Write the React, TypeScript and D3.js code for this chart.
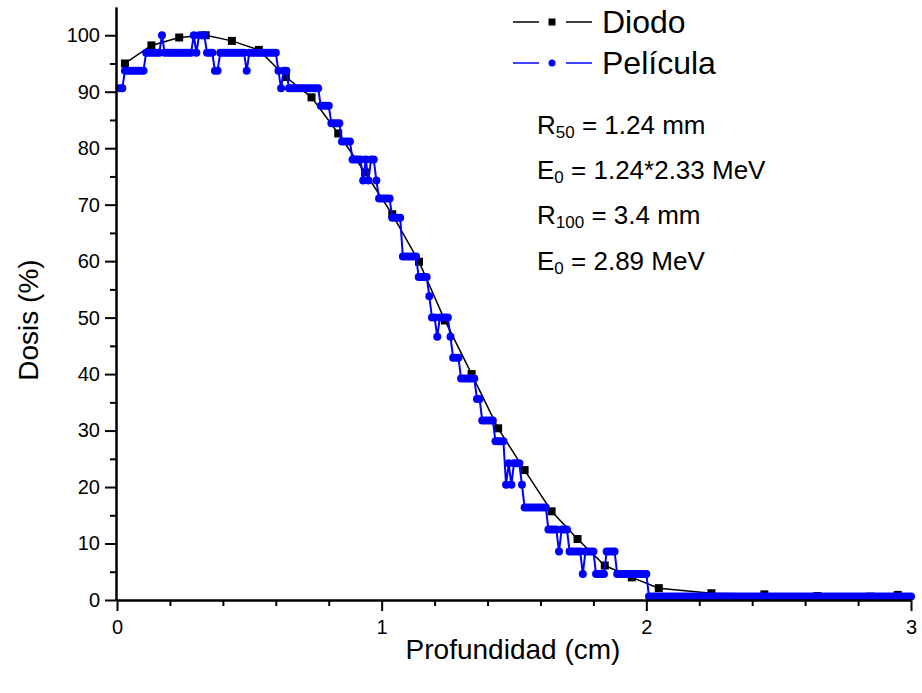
import React, { useRef, useEffect } from "react";
import * as d3 from "d3";

// Diodo: measured points (depth cm, dose %)
const diodoX = [0.03, 0.13, 0.235, 0.335, 0.434, 0.536, 0.638, 0.735, 0.836, 0.937, 1.04, 1.141, 1.239, 1.34, 1.44, 1.54, 1.642, 1.74, 1.843, 1.945, 2.047, 2.246, 2.446, 2.646, 2.846, 2.95];
const diodoY = [95.0, 98.2, 99.6, 100, 99.0, 97.4, 92.6, 89.0, 82.6, 75.7, 68.3, 59.9, 49.5, 40.0, 30.4, 23.0, 15.7, 10.8, 6.1, 4.0, 2.1, 1.2, 1.0, 0.7, 0.6, 0.9];

// Película: film scan, one sample every 0.01 cm starting at 0.01 cm
const peliculaStart = 0.01;
const peliculaStep = 0.01;
const peliculaY = [
  90.6, 90.6, 93.7, 93.7, 93.7, 93.7, 93.7, 93.7, 93.7, 93.7,
  96.9, 96.9, 96.9, 96.9, 96.9, 96.9, 100, 96.9, 96.9, 96.9,
  96.9, 96.9, 96.9, 96.9, 96.9, 96.9, 96.9, 96.9, 100, 96.9,
  100, 100, 100, 96.9, 96.9, 96.9, 93.7, 93.7, 96.9, 96.9,
  96.9, 96.9, 96.9, 96.9, 96.9, 96.9, 96.9, 96.9, 93.7, 96.9,
  96.9, 96.9, 96.9, 96.9, 96.9, 96.9, 96.9, 96.9, 96.9, 96.9,
  93.7, 90.6, 93.7, 93.7, 90.6, 90.6, 90.6, 90.6, 90.6, 90.6,
  90.6, 90.6, 90.6, 90.6, 90.6, 90.6, 87.5, 87.5, 87.5, 87.5,
  84.4, 84.4, 84.4, 84.4, 81.2, 81.2, 81.2, 81.2, 78, 78,
  78, 78, 74.3, 78, 74.3, 78, 78, 74.3, 71.1, 71.1,
  71.1, 71.1, 71.1, 67.7, 67.7, 67.7, 67.7, 60.8, 60.8, 60.8,
  60.8, 60.8, 60.8, 57.2, 57.2, 57.2, 57.2, 53.8, 50, 50,
  46.6, 50, 50, 50, 50, 46.6, 42.9, 42.9, 42.9, 39.2,
  39.2, 39.2, 39.2, 39.2, 39.2, 35.6, 35.6, 31.8, 31.8, 31.8,
  31.8, 31.8, 28.1, 28.1, 28.1, 28.1, 20.4, 24.2, 20.4, 24.2,
  24.2, 24.2, 20.4, 16.4, 16.4, 16.4, 16.4, 16.4, 16.4, 16.4,
  16.4, 16.4, 12.5, 12.5, 12.5, 12.5, 8.6, 12.5, 12.5, 12.5,
  8.6, 8.6, 8.6, 8.6, 8.6, 4.6, 8.6, 8.6, 8.6, 8.6,
  4.6, 4.6, 4.6, 4.6, 8.6, 8.6, 8.6, 8.6, 4.6, 4.6,
  4.6, 4.6, 4.6, 4.6, 4.6, 4.6, 4.6, 4.6, 4.6, 4.6,
  0.6, 0.6, 0.6, 0.6, 0.6, 0.6, 0.6, 0.6, 0.6, 0.6,
  0.6, 0.6, 0.6, 0.6, 0.6, 0.6, 0.6, 0.6, 0.6, 0.6,
  0.6, 0.6, 0.6, 0.6, 0.6, 0.6, 0.6, 0.6, 0.6, 0.6,
  0.6, 0.6, 0.6, 0.6, 0.6, 0.6, 0.6, 0.6, 0.6, 0.6,
  0.6, 0.6, 0.6, 0.6, 0.6, 0.6, 0.6, 0.6, 0.6, 0.6,
  0.6, 0.6, 0.6, 0.6, 0.6, 0.6, 0.6, 0.6, 0.6, 0.6,
  0.6, 0.6, 0.6, 0.6, 0.6, 0.6, 0.6, 0.6, 0.6, 0.6,
  0.6, 0.6, 0.6, 0.6, 0.6, 0.6, 0.6, 0.6, 0.6, 0.6,
  0.6, 0.6, 0.6, 0.6, 0.6, 0.6, 0.6, 0.6, 0.6, 0.6,
  0.6, 0.6, 0.6, 0.6, 0.6, 0.6, 0.6, 0.6, 0.6, 0.6,
];

const xTicks = [0, 1, 2, 3];
const xMinor = [0.2, 0.4, 0.6, 0.8, 1.2, 1.4, 1.6, 1.8, 2.2, 2.4, 2.6, 2.8];
const yTicks = [0, 10, 20, 30, 40, 50, 60, 70, 80, 90, 100];
const yMinor = [5, 15, 25, 35, 45, 55, 65, 75, 85, 95];

const W = 922;
const H = 693;
const margin = { top: 7, right: 11, bottom: 93, left: 117 };
const FONT = "'Liberation Sans', Arial, sans-serif";

function App() {
  const xAxisRef = useRef<SVGGElement>(null);
  const yAxisRef = useRef<SVGGElement>(null);

  const x = d3.scaleLinear().domain([0, 3]).range([margin.left, W - margin.right]);
  const y = d3.scaleLinear().domain([0, 105]).range([H - margin.bottom, margin.top]);

  const diodo = diodoX.map((d, i) => [d, diodoY[i]] as [number, number]);
  const pelicula = peliculaY.map((v, i) => [peliculaStart + i * peliculaStep, v] as [number, number]);

  const line = d3
    .line<[number, number]>()
    .x((d) => x(d[0]))
    .y((d) => y(d[1]));

  useEffect(() => {
    const gx = d3.select(xAxisRef.current);
    gx.selectAll("*").remove();
    gx.append("g")
      .call(d3.axisBottom(x).tickValues(xMinor).tickSize(6).tickSizeOuter(0).tickFormat(() => ""));
    gx.append("g")
      .call(d3.axisBottom(x).tickValues(xTicks).tickSize(11).tickSizeOuter(0).tickPadding(9).tickFormat(d3.format("d")));
    gx.selectAll("path.domain").attr("stroke-width", 2).attr("stroke", "#000");
    gx.selectAll(".tick line").attr("stroke-width", 2).attr("stroke", "#000");
    gx.selectAll("text").attr("font-size", 20).attr("font-family", FONT).attr("fill", "#000");

    const gy = d3.select(yAxisRef.current);
    gy.selectAll("*").remove();
    gy.append("g")
      .call(d3.axisLeft(y).tickValues(yMinor).tickSize(6).tickSizeOuter(0).tickFormat(() => ""));
    gy.append("g")
      .call(d3.axisLeft(y).tickValues(yTicks).tickSize(11).tickSizeOuter(0).tickPadding(5).tickFormat(d3.format("d")));
    gy.selectAll("path.domain").attr("stroke-width", 2).attr("stroke", "#000");
    gy.selectAll(".tick line").attr("stroke-width", 2).attr("stroke", "#000");
    gy.selectAll("text").attr("font-size", 20).attr("font-family", FONT).attr("fill", "#000");
  }, []);

  return (
    <svg
      width={W}
      height={H}
      style={{ position: "absolute", left: 0, top: 0, background: "#fff" }}
      fontFamily={FONT}
    >
      <rect width={W} height={H} fill="#fff" />

      {/* Diodo */}
      <path d={line(diodo) || ""} fill="none" stroke="#000" strokeWidth={1.5} />
      {diodo.map((d, i) => (
        <rect key={"d" + i} x={x(d[0]) - 4} y={y(d[1]) - 4} width={8} height={8} fill="#000" />
      ))}

      {/* Película */}
      <path d={line(pelicula) || ""} fill="none" stroke="#0000ff" strokeWidth={2} />
      {pelicula.map((d, i) => (
        <circle key={"p" + i} cx={x(d[0])} cy={y(d[1])} r={4} fill="#0000ff" />
      ))}

      <g ref={xAxisRef} transform={`translate(0,${H - margin.bottom})`} />
      <g ref={yAxisRef} transform={`translate(${margin.left - 1},0)`} />

      {/* axis titles */}
      <text x={513} y={659} textAnchor="middle" fontSize={28}>
        Profundidad (cm)
      </text>
      <text transform="translate(38,320) rotate(-90)" textAnchor="middle" fontSize={28}>
        Dosis (%)
      </text>

      {/* legend */}
      <g>
        <line x1={513} x2={539} y1={22} y2={22} stroke="#000" strokeWidth={1.5} />
        <rect x={548.5} y={18.5} width={7} height={7} fill="#000" />
        <line x1={566} x2={592} y1={22} y2={22} stroke="#000" strokeWidth={1.5} />
        <text x={602} y={33} fontSize={32}>Diodo</text>

        <line x1={513} x2={539} y1={63} y2={63} stroke="#0000ff" strokeWidth={1.5} />
        <circle cx={552} cy={63} r={3.5} fill="#0000ff" />
        <line x1={566} x2={592} y1={63} y2={63} stroke="#0000ff" strokeWidth={1.5} />
        <text x={602} y={74} fontSize={32}>Película</text>
      </g>

      {/* annotations */}
      <g fontSize={26}>
        <text x={537} y={134}>
          R<tspan fontSize={17} dy={4}>50</tspan>
          <tspan dy={-4}> = 1.24 mm</tspan>
        </text>
        <text x={537} y={179}>
          E<tspan fontSize={17} dy={4}>0</tspan>
          <tspan dy={-4}> = 1.24*2.33 MeV</tspan>
        </text>
        <text x={537} y={224}>
          R<tspan fontSize={17} dy={4}>100</tspan>
          <tspan dy={-4}> = 3.4 mm</tspan>
        </text>
        <text x={537} y={270}>
          E<tspan fontSize={17} dy={4}>0</tspan>
          <tspan dy={-4}> = 2.89 MeV</tspan>
        </text>
      </g>
    </svg>
  );
}

export default App;
